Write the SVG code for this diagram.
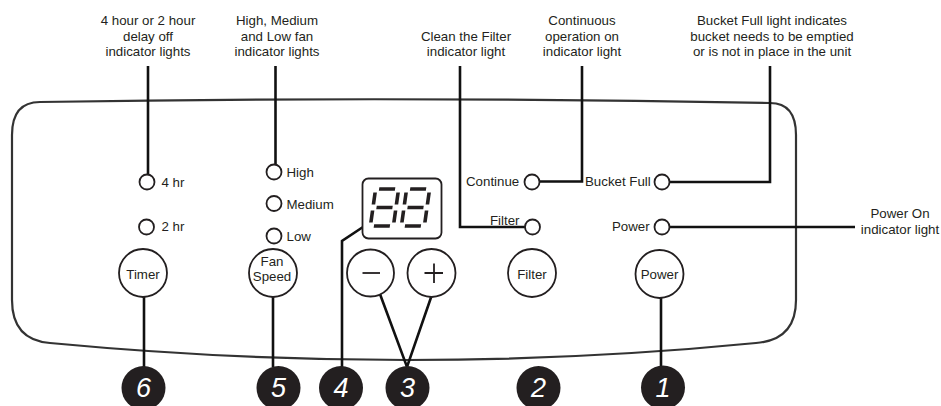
<svg xmlns="http://www.w3.org/2000/svg" width="941" height="406" viewBox="0 0 941 406">
<style>
text{font-family:"Liberation Sans",Arial,sans-serif;font-size:13.3px;fill:#231f20}
.c{text-anchor:middle}
.ind{fill:#fff;stroke:#231f20;stroke-width:1.8}
.btn{fill:#fff;stroke:#231f20;stroke-width:1.8}
.lead{fill:none;stroke:#111;stroke-width:2.6}
.num{fill:#231f20}
.nt{fill:#fff;font-size:27px;font-style:italic;text-anchor:middle}
.seg{stroke:#231f20;stroke-width:3.6;fill:none}
</style>
<rect width="941" height="406" fill="#fff"/>
<g id="panel">
<path d="M 40,102 Q 400,96 770,103 Q 796,103 796,135 L 796,300 Q 796,340 756,343 Q 410,377 50,343 Q 12,340 12,300 L 12,135 Q 12,102 40,102 Z" fill="none" stroke="#333" stroke-width="2.2"/>
</g>
<g id="labels">
<text class="c" x="148" y="25">4 hour or 2 hour</text>
<text class="c" x="148" y="40.5">delay off</text>
<text class="c" x="148" y="56">indicator lights</text>
<text class="c" x="277" y="25">High, Medium</text>
<text class="c" x="277" y="40.5">and Low fan</text>
<text class="c" x="277" y="56">indicator lights</text>
<text class="c" x="466" y="40.5">Clean the Filter</text>
<text class="c" x="466" y="56">indicator light</text>
<text class="c" x="582" y="25">Continuous</text>
<text class="c" x="582" y="40.5">operation on</text>
<text class="c" x="582" y="56">indicator light</text>
<text class="c" x="772" y="25">Bucket Full light indicates</text>
<text class="c" x="772" y="40.5">bucket needs to be emptied</text>
<text class="c" x="772" y="56">or is not in place in the unit</text>
<text class="c" x="900" y="218">Power On</text>
<text class="c" x="900" y="234">indicator light</text>
</g>
<g id="connectors">
<path class="lead" d="M 148,66 V 182"/>
<path class="lead" d="M 275.5,66 V 172"/>
<path class="lead" d="M 460,66 V 227 H 532"/>
<path class="lead" d="M 582,66 V 181.5 H 532"/>
<path class="lead" d="M 770,66 V 182 H 662"/>
<path class="lead" d="M 662,227 H 855"/>
<path class="lead" d="M 144,285 V 367"/>
<path class="lead" d="M 273,286 V 367"/>
<path class="lead" d="M 363,227 L 342,241 V 367"/>
<path class="lead" d="M 377,286 L 407,367 L 436,283"/>
<path class="lead" d="M 661,285 V 366"/>
</g>
<g id="ind-4hr"><circle class="ind" cx="147" cy="182" r="7.5"/><text x="161.5" y="187">4 hr</text></g>
<g id="ind-2hr"><circle class="ind" cx="146.5" cy="227" r="7.5"/><text x="161.5" y="231">2 hr</text></g>
<g id="ind-high"><circle class="ind" cx="274" cy="172" r="7.5"/><text x="286.5" y="177">High</text></g>
<g id="ind-medium"><circle class="ind" cx="274" cy="203.5" r="7.5"/><text x="286.5" y="208.5">Medium</text></g>
<g id="ind-low"><circle class="ind" cx="274" cy="236" r="7.5"/><text x="286.5" y="241">Low</text></g>
<g id="ind-continue"><circle class="ind" cx="532" cy="182" r="7.5"/><text x="466" y="186">Continue</text></g>
<g id="ind-filter"><circle class="ind" cx="532.5" cy="227" r="7.5"/><text x="490" y="224.5">Filter</text></g>
<g id="ind-bucket"><circle class="ind" cx="662" cy="182" r="7.5"/><text x="585" y="186">Bucket Full</text></g>
<g id="ind-power"><circle class="ind" cx="662" cy="227" r="7.5"/><text x="612" y="231">Power</text></g>
<g id="display">
<rect x="362.5" y="178.5" width="79" height="60" rx="6" fill="#fff" stroke="#231f20" stroke-width="1.8"/>
<g transform="translate(384.5,207.5) skewX(-8)">
<path class="seg" d="M -8,-18.5 H 8 M 11.5,-15 V -3 M 11.5,3 V 15 M -8,18.5 H 8 M -11.5,3 V 15 M -11.5,-15 V -3 M -8,0 H 8"/>
</g>
<g transform="translate(415.5,207.5) skewX(-8)">
<path class="seg" d="M -8,-18.5 H 8 M 11.5,-15 V -3 M 11.5,3 V 15 M -8,18.5 H 8 M -11.5,3 V 15 M -11.5,-15 V -3 M -8,0 H 8"/>
</g>
</g>
<g id="btn-timer"><circle class="btn" cx="143" cy="273" r="24"/><text class="c" x="143" y="278.5">Timer</text></g>
<g id="btn-fanspeed"><circle class="btn" cx="273" cy="273" r="24"/><text class="c" x="272" y="266">Fan</text><text class="c" x="272" y="281">Speed</text></g>
<g id="btn-minus"><circle class="btn" cx="370.5" cy="273" r="23.5"/><path d="M 362.5,273 H 380" stroke="#231f20" stroke-width="1.8"/></g>
<g id="btn-plus"><circle class="btn" cx="431.5" cy="273" r="24"/><path d="M 424.5,273 H 443 M 434,263.5 V 283" stroke="#231f20" stroke-width="1.8"/></g>
<g id="btn-filter"><circle class="btn" cx="532" cy="273" r="24"/><text class="c" x="532" y="278.5">Filter</text></g>
<g id="btn-power"><circle class="btn" cx="659.5" cy="274" r="24"/><text class="c" x="659.5" y="278.5">Power</text></g>
<g id="num-6"><circle class="num" cx="143.5" cy="388" r="22"/><text class="nt" x="143.5" y="397">6</text></g>
<g id="num-5"><circle class="num" cx="278.5" cy="388" r="22"/><text class="nt" x="278.5" y="397">5</text></g>
<g id="num-4"><circle class="num" cx="341" cy="388" r="22"/><text class="nt" x="341" y="397">4</text></g>
<g id="num-3"><circle class="num" cx="407.5" cy="388" r="22"/><text class="nt" x="407.5" y="397">3</text></g>
<g id="num-2"><circle class="num" cx="538.5" cy="388" r="22"/><text class="nt" x="538.5" y="397">2</text></g>
<g id="num-1"><circle class="num" cx="663" cy="387.5" r="22"/><text class="nt" x="663" y="397">1</text></g>
</svg>
